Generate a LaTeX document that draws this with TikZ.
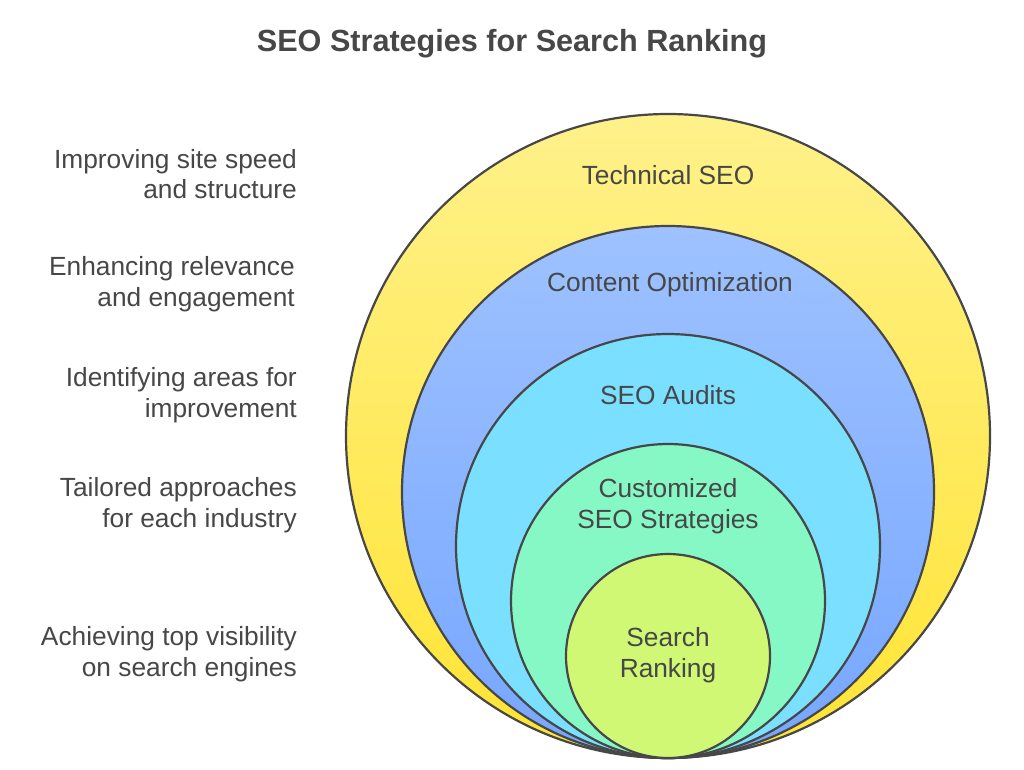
\documentclass[tikz,border=0pt]{standalone}
\usepackage{fontspec}
\setmainfont{Liberation Sans}
\usepackage{tikz}

\definecolor{inkgrey}{HTML}{474747}
\definecolor{yellowtop}{HTML}{FFF18B}
\definecolor{yellowbot}{HTML}{FFE433}
\definecolor{bluetop}{HTML}{9EC2FF}
\definecolor{bluebot}{HTML}{76A6FF}
\definecolor{cyanfill}{HTML}{7BDFFF}
\definecolor{greenfill}{HTML}{86F8C6}
\definecolor{limefill}{HTML}{D0F874}

\begin{document}
\begin{tikzpicture}[x=1pt,y=-1pt]
						\tikzstyle{ring}=[circle,draw=inkgrey,line width=2.2pt,inner sep=0pt]
						\tikzstyle{note}=[text=inkgrey,font=\fontsize{26.3}{30.5}\selectfont,align=right,anchor=east,inner sep=0pt]
						\tikzstyle{tag}=[text=inkgrey,font=\fontsize{26.3}{30.5}\selectfont,align=center,inner sep=0pt]
						\useasboundingbox[fill=white] (0,0) rectangle (1024,769);
						\node[text=inkgrey,font=\fontsize{30.6}{36}\selectfont\bfseries](title) at (512,44) {SEO Strategies for Search Ranking};
						\node[ring,top color=yellowtop,middle color=yellowtop,bottom color=yellowbot,minimum size=644pt](c1) at (668,436) {};
						\node[ring,top color=bluetop,middle color=bluetop,bottom color=bluebot,minimum size=532pt](c2) at (668,492) {};
						\node[ring,fill=cyanfill,minimum size=424pt](c3) at (668,546) {};
						\node[ring,fill=greenfill,minimum size=314pt](c4) at (668,601) {};
						\node[ring,fill=limefill,minimum size=204pt](c5) at (668,656) {};
						\node[tag](t1) at (668,175) {Technical SEO};
						\node[tag](t2) at (670,285) {Content Optimization};
						\node[tag](t3) at (668,395) {SEO Audits};
						\node[tag](t4) at (668,506) {Customized\\SEO Strategies};
						\node[tag](t5) at (668,655) {Search\\Ranking};
						\node[note](n1) at (297,174) {Improving site speed\\and structure};
						\node[note](n2) at (295,284) {Enhancing relevance\\and engagement};
						\node[note](n3) at (297,395) {Identifying areas for\\improvement};
						\node[note](n4) at (297,505) {Tailored approaches\\for each industry};
						\node[note](n5) at (297,654) {Achieving top visibility\\on search engines};
					\end{tikzpicture}
\end{document}
